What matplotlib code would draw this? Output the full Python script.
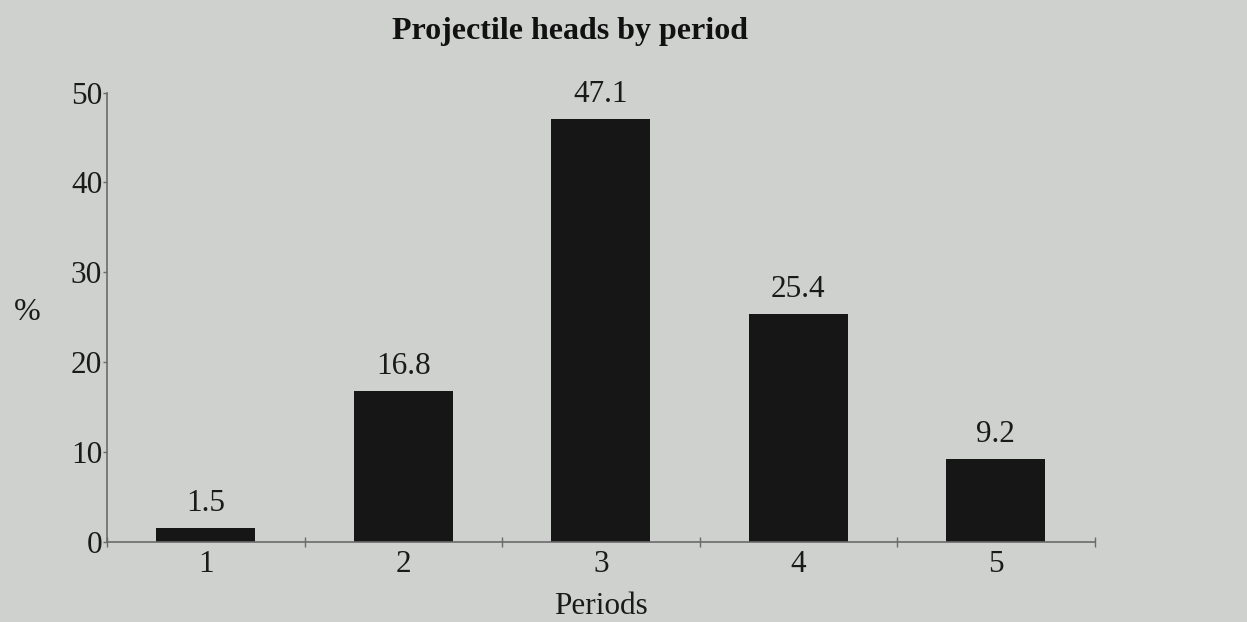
import numpy as np
import matplotlib.pyplot as plt

periods = ['1', '2', '3', '4', '5']
percent = [1.5, 16.8, 47.1, 25.4, 9.2]
y_ticks = [0, 10, 20, 30, 40, 50]

plt.rcParams['font.family'] = ['Liberation Serif', 'DejaVu Serif']

bg = '#cfd1ce'
fs = 22.5
fig = plt.figure(figsize=(12.47, 6.22), dpi=100, facecolor=bg)
ax = fig.add_axes([0.0858, 0.129, 0.792, 0.722])
ax.set_facecolor(bg)

x = np.arange(1, len(periods) + 1)
ax.bar(x, percent, width=0.5, color='#161616')

# valeurs au-dessus des barres
for xi, v in zip(x, percent):
    ax.text(xi, v + 1.1, f"{v}", ha='center', va='bottom', fontsize=fs, color='#1a1a1a')

ax.set_xlim(0.5, len(periods) + 0.5)
ax.set_ylim(0, 50)
ax.set_xticks(x)
ax.set_xticklabels(periods)
ax.set_xticks(np.arange(0.5, len(periods) + 1, 1.0), minor=True)
ax.set_yticks(y_ticks)
ax.tick_params(axis='x', which='major', length=0, pad=6, labelsize=fs, labelcolor='#1a1a1a')
ax.tick_params(axis='x', which='minor', length=7, direction='inout', width=1, color='#6a6a6a')
ax.tick_params(axis='y', length=3, width=1, color='#6a6a6a', pad=0.5, labelsize=fs, labelcolor='#1a1a1a')

for s in ['top', 'right']:
    ax.spines[s].set_visible(False)
for s in ['left', 'bottom']:
    ax.spines[s].set_color('#6a6a6a')
    ax.spines[s].set_linewidth(1.2)

fig.text(0.457, 0.95, "Projectile heads by period", ha='center', va='center',
         fontsize=23, fontweight='bold', color='#111111')
fig.text(0.022, 0.497, "%", ha='center', va='center', fontsize=23, color='#1a1a1a')
fig.text(0.482, 0.025, "Periods", ha='center', va='center', fontsize=fs, color='#1a1a1a')

plt.savefig('out.png', dpi=100, facecolor=bg)
